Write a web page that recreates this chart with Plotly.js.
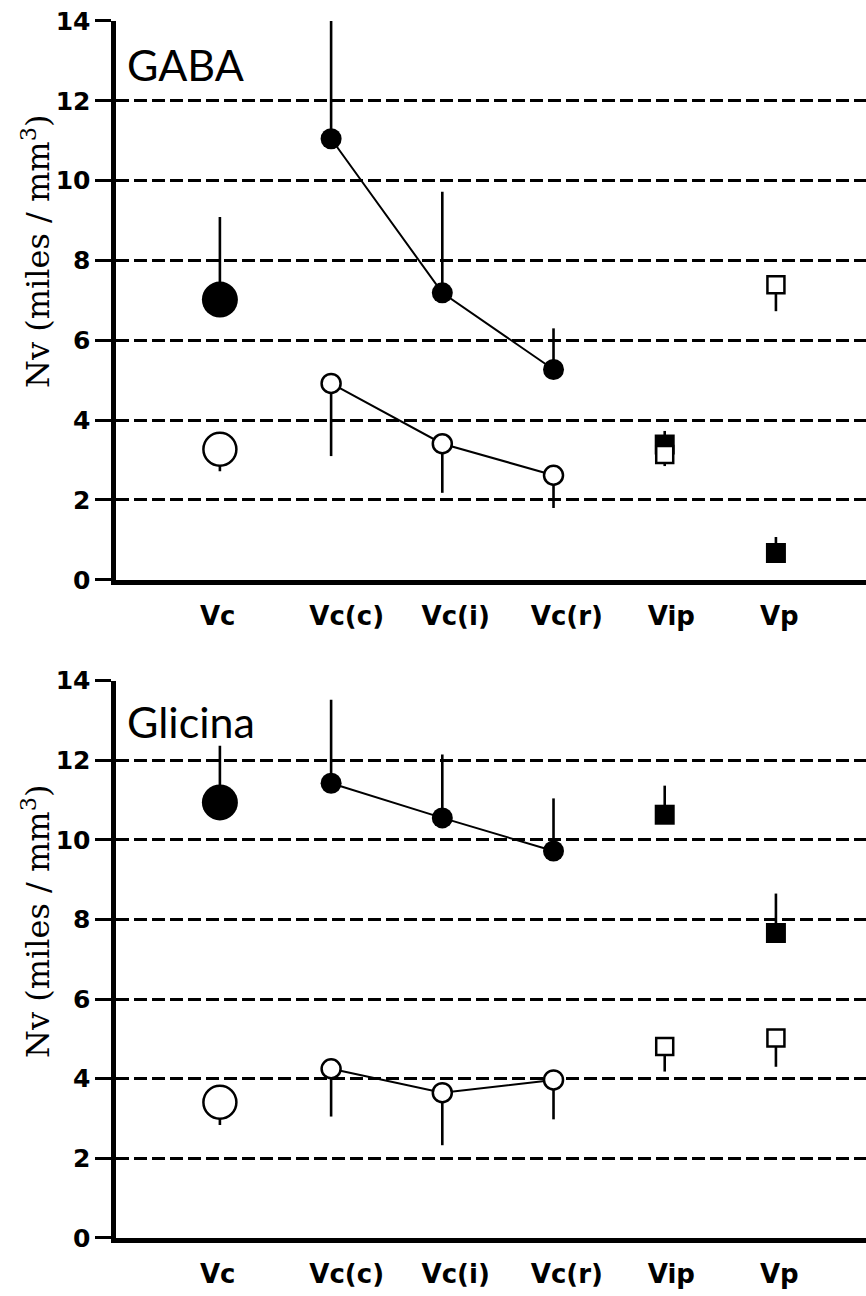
<!DOCTYPE html>
<html>
<head>
<meta charset="utf-8">
<script src="https://cdn.plot.ly/plotly-3.0.1.min.js"></script>
<style>html,body{margin:0;padding:0;background:#fff;}#chart{width:866px;height:1296px;}</style>
</head>
<body>
<div id="chart"></div>
<script>
// ---- data ----
const categories = ['Vc', 'Vc(c)', 'Vc(i)', 'Vc(r)', 'Vip', 'Vp'];
const yTicks = [0, 2, 4, 6, 8, 10, 12, 14];

// GABA panel
const gabaFilled    = [7.02, 11.05, 7.19, 5.27, 3.39, 0.67];
const gabaFilledErr = [2.07, 3.00, 2.53, 1.03, 0.34, 0.40];
const gabaOpen      = [3.27, 4.92, 3.41, 2.62, 3.14, 7.39];
const gabaOpenErr   = [0.55, 1.82, 1.23, 0.82, 0.29, 0.66];

// Glicina panel
const glyFilled     = [10.94, 11.42, 10.55, 9.72, 10.63, 7.66];
const glyFilledErr  = [1.42, 2.10, 1.59, 1.32, 0.73, 0.99];
const glyOpen       = [3.41, 4.25, 3.65, 3.97, 4.81, 5.02];
const glyOpenErr    = [0.57, 1.20, 1.32, 0.99, 0.63, 0.72];

const panelTitles = ['GABA', 'Glicina'];

// ---- layout helpers (positions / styles) ----
const xIdx = categories.map((c, i) => i);
const labelPos = [-0.02, 1.14, 2.12, 3.12, 4.06, 5.03];
const groups = {vc: [0], line: [1, 2, 3], sq: [4, 5]};

function pick(arr, idx) { return idx.map(i => arr[i]); }

function panelTraces(filled, filledErr, open, openErr, xa, ya) {
  const traces = [];
  const errUp = (e) => ({type: 'data', symmetric: false, array: e, arrayminus: e.map(() => 0), width: 0, thickness: 2.6, color: '#000'});
  const errDn = (e) => ({type: 'data', symmetric: false, array: e.map(() => 0), arrayminus: e, width: 0, thickness: 2.6, color: '#000'});
  const specs = [
    {g: 'vc', sym: 'circle', fs: 36, os: 33},
    {g: 'line', sym: 'circle', fs: 21, os: 19},
    {g: 'sq', sym: 'square', fs: 20, os: 17}
  ];
  specs.forEach(s => {
    const idx = groups[s.g];
    traces.push({
      x: pick(xIdx, idx), y: pick(filled, idx), xaxis: xa, yaxis: ya,
      type: 'scatter', mode: s.g === 'line' ? 'lines+markers' : 'markers',
      line: {color: '#000', width: 2},
      marker: {symbol: s.sym, size: s.fs, color: '#000', line: {color: '#000', width: 0}},
      error_y: errUp(pick(filledErr, idx)), showlegend: false, hoverinfo: 'skip'
    });
  });
  specs.forEach(s => {
    const idx = groups[s.g];
    traces.push({
      x: pick(xIdx, idx), y: pick(open, idx), xaxis: xa, yaxis: ya,
      type: 'scatter', mode: s.g === 'line' ? 'lines+markers' : 'markers',
      line: {color: '#000', width: 2},
      marker: {symbol: s.sym, size: s.os, color: '#fff', line: {color: '#000', width: 2.5}},
      error_y: errDn(pick(openErr, idx)), showlegend: false, hoverinfo: 'skip'
    });
  });
  return traces;
}

const data = [].concat(
  panelTraces(gabaFilled, gabaFilledErr, gabaOpen, gabaOpenErr, 'x', 'y'),
  panelTraces(glyFilled, glyFilledErr, glyOpen, glyOpenErr, 'x2', 'y2')
);

const xDomain = [0.1345, 1];
const xRange = [-0.93, 5.81];

function xAxis(anchor) {
  return {
    domain: xDomain, range: xRange, anchor: anchor,
    showline: true, linewidth: 5, linecolor: '#000',
    showgrid: false, zeroline: false, ticks: '',
    tickmode: 'array', tickvals: labelPos, ticktext: categories,
    tickfont: {family: 'DejaVu Sans', size: 26, color: '#000', weight: 'bold'},
    ticklabelstandoff: 9, fixedrange: true
  };
}
function yAxis(anchor, domain) {
  return {
    domain: domain, range: [0, 14], anchor: anchor,
    showline: true, linewidth: 5, linecolor: '#000',
    showgrid: true, gridcolor: '#000', gridwidth: 3, griddash: '13px,5px',
    zeroline: false, ticks: 'outside', ticklen: 16, tickwidth: 3, tickcolor: '#000',
    tickmode: 'array', tickvals: yTicks, ticktext: yTicks.map(String),
    tickfont: {family: 'DejaVu Sans', size: 25, color: '#000', weight: 'bold'},
    fixedrange: true
  };
}

const yTitle = 'Nv (miles / mm<sup>3</sup>)';
const layout = {
  width: 866, height: 1296,
  margin: {l: 0, r: 0, t: 0, b: 0},
  paper_bgcolor: '#fff', plot_bgcolor: '#fff',
  showlegend: false,
  xaxis: xAxis('y'),
  yaxis: yAxis('x', [0.5526, 0.9838]),
  xaxis2: xAxis('y2'),
  yaxis2: yAxis('x2', [0.04475, 0.4749]),
  annotations: [
    {text: panelTitles[0], xref: 'paper', yref: 'paper', x: 125 / 866, y: (1296 - 64) / 1296,
     xanchor: 'left', yanchor: 'middle', showarrow: false,
     font: {family: 'Lato', size: 43, color: '#000'}},
    {text: panelTitles[1], xref: 'paper', yref: 'paper', x: 125 / 866, y: (1296 - 721) / 1296,
     xanchor: 'left', yanchor: 'middle', showarrow: false,
     font: {family: 'Lato', size: 43, color: '#000'}},
    {text: yTitle, xref: 'paper', yref: 'paper', x: 36 / 866, y: (1296 - 252) / 1296,
     xanchor: 'center', yanchor: 'middle', textangle: -90, showarrow: false,
     font: {family: 'DejaVu Serif', size: 32, color: '#000'}},
    {text: yTitle, xref: 'paper', yref: 'paper', x: 36 / 866, y: (1296 - 922) / 1296,
     xanchor: 'center', yanchor: 'middle', textangle: -90, showarrow: false,
     font: {family: 'DejaVu Serif', size: 32, color: '#000'}}
  ]
};

Plotly.newPlot('chart', data, layout, {displayModeBar: false, staticPlot: true});
</script>
</body>
</html>
